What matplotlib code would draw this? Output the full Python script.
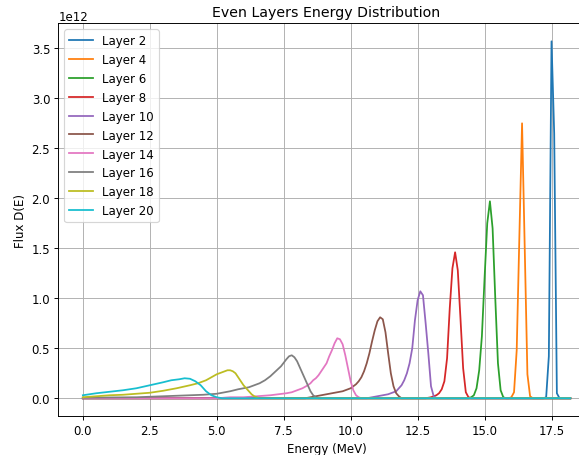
import matplotlib
matplotlib.use("Agg")
import matplotlib.pyplot as plt
import numpy as np

# flux values are in units of 1e12, energies in MeV
layer2_e = [0.0, 17.2, 17.3, 17.4, 17.5, 17.6, 17.7, 17.8, 18.2]
layer2_f = [0, 0, 0.01, 0.42, 3.57, 2.65, 0.05, 0, 0]

layer4_e = [0.0, 15.9, 16.0, 16.1, 16.2, 16.3, 16.4, 16.5, 16.6, 16.7, 16.8, 18.2]
layer4_f = [0, 0, 0.01, 0.06, 0.48, 1.62, 2.75, 1.5, 0.24, 0.02, 0, 0]

layer6_e = [0.0, 14.4, 14.5, 14.6, 14.7, 14.8, 14.9, 15.0, 15.1, 15.2, 15.3, 15.4,
            15.5, 15.6, 15.7, 15.8, 18.2]
layer6_f = [0, 0, 0.01, 0.03, 0.1, 0.28, 0.62, 1.2, 1.75, 1.97, 1.7, 1.0,
            0.35, 0.08, 0.01, 0, 0]

layer8_e = [0.0, 12.8, 13.0, 13.1, 13.2, 13.3, 13.4, 13.5, 13.6, 13.7, 13.8, 13.9,
            14.0, 14.1, 14.2, 14.3, 14.4, 14.5, 18.2]
layer8_f = [0, 0, 0.01, 0.02, 0.03, 0.05, 0.09, 0.17, 0.4, 0.9, 1.3, 1.46,
            1.28, 0.8, 0.3, 0.06, 0.01, 0, 0]

layer10_e = [0.0, 10.6, 11.0, 11.2, 11.4, 11.5, 11.6, 11.7, 11.8, 11.9, 12.0, 12.1,
             12.2, 12.3, 12.4, 12.5, 12.6, 12.7, 12.8, 12.9, 13.0, 13.1, 13.2, 18.2]
layer10_f = [0, 0, 0.02, 0.03, 0.04, 0.05, 0.06, 0.07, 0.1, 0.13, 0.18, 0.25,
             0.35, 0.5, 0.78, 0.98, 1.07, 1.03, 0.75, 0.45, 0.12, 0.02, 0, 0]

layer12_e = [0.0, 8.3, 8.5, 8.7, 8.9, 9.1, 9.3, 9.5, 9.7, 9.9, 10.0, 10.1, 10.2,
             10.3, 10.4, 10.5, 10.6, 10.7, 10.8, 10.9, 11.0, 11.1, 11.2, 11.3,
             11.4, 11.5, 11.6, 11.7, 11.8, 11.9, 18.2]
layer12_f = [0, 0, 0.01, 0.02, 0.03, 0.04, 0.05, 0.06, 0.07, 0.09, 0.1, 0.12, 0.14,
             0.17, 0.21, 0.27, 0.35, 0.45, 0.57, 0.68, 0.77, 0.81, 0.79, 0.66,
             0.45, 0.25, 0.12, 0.05, 0.02, 0, 0]

layer14_e = [0.0, 5.0, 5.5, 6.0, 6.5, 7.0, 7.3, 7.6, 7.8, 8.0, 8.2, 8.4, 8.5, 8.6,
             8.7, 8.8, 8.9, 9.0, 9.1, 9.2, 9.3, 9.4, 9.5, 9.6, 9.7, 9.8, 9.9,
             10.0, 10.1, 10.2, 10.3, 10.4, 18.2]
layer14_f = [0, 0, 0.01, 0.01, 0.02, 0.03, 0.04, 0.05, 0.06, 0.08, 0.1, 0.13, 0.15, 0.18,
             0.2, 0.23, 0.27, 0.31, 0.35, 0.42, 0.48, 0.55, 0.6, 0.59, 0.54, 0.43, 0.3,
             0.17, 0.08, 0.03, 0.01, 0, 0]

layer16_e = [0.0, 1.0, 2.0, 3.0, 3.5, 4.0, 4.5, 5.0, 5.5, 5.8, 6.0, 6.2, 6.4, 6.6,
             6.8, 7.0, 7.2, 7.4, 7.6, 7.7, 7.8, 7.9, 8.0, 8.1, 8.2, 8.3, 8.4,
             8.5, 8.6, 8.7, 8.8, 18.2]
layer16_f = [0.005, 0.008, 0.01, 0.02, 0.025, 0.03, 0.035, 0.045, 0.07, 0.09, 0.1, 0.11,
             0.13, 0.15, 0.18, 0.22, 0.27, 0.32, 0.39, 0.42, 0.43, 0.41, 0.37, 0.31,
             0.25, 0.19, 0.13, 0.07, 0.03, 0.01, 0, 0]

layer18_e = [0.0, 0.5, 1.0, 1.5, 2.0, 2.5, 3.0, 3.5, 4.0, 4.3, 4.6, 4.8, 5.0, 5.2,
             5.4, 5.5, 5.6, 5.7, 5.8, 5.9, 6.0, 6.1, 6.2, 6.3, 6.4, 6.5, 6.6, 18.2]
layer18_f = [0.01, 0.02, 0.03, 0.035, 0.045, 0.055, 0.075, 0.1, 0.13, 0.15, 0.18, 0.21,
             0.24, 0.26, 0.28, 0.28, 0.27, 0.25, 0.21, 0.17, 0.13, 0.1, 0.07, 0.04,
             0.02, 0.01, 0, 0]

layer20_e = [0.0, 0.5, 1.0, 1.5, 2.0, 2.5, 3.0, 3.3, 3.6, 3.8, 4.0, 4.2, 4.4, 4.6,
             4.8, 5.0, 5.2, 18.2]
layer20_f = [0.03, 0.05, 0.065, 0.08, 0.1, 0.13, 0.16, 0.18, 0.19, 0.2, 0.195, 0.17,
             0.13, 0.07, 0.03, 0.01, 0, 0]

layer_names = ["Layer 2", "Layer 4", "Layer 6", "Layer 8", "Layer 10",
               "Layer 12", "Layer 14", "Layer 16", "Layer 18", "Layer 20"]
energies = [layer2_e, layer4_e, layer6_e, layer8_e, layer10_e,
            layer12_e, layer14_e, layer16_e, layer18_e, layer20_e]
fluxes = [layer2_f, layer4_f, layer6_f, layer8_f, layer10_f,
          layer12_f, layer14_f, layer16_f, layer18_f, layer20_f]

dpi = 85
fig = plt.figure(figsize=(579 / dpi, 456 / dpi), dpi=dpi)
ax = fig.add_axes([0.101, 0.0853, 0.926, 0.861])

for name, e, f in zip(layer_names, energies, fluxes):
    ax.plot(e, np.array(f) * 1e12, label=name)

ax.set_title("Even Layers Energy Distribution")
ax.set_xlabel("Energy (MeV)")
ax.set_ylabel("Flux D(E)")
ax.legend(loc="upper left")
ax.grid()

fig.savefig("out.png", dpi=dpi)
